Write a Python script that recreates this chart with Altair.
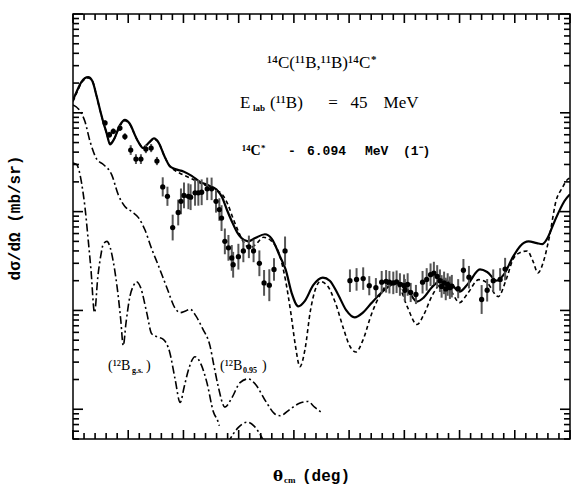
import altair as alt
import pandas as pd

# ---------------- data ----------------
solid_theta = [0, 1.6, 3, 5.5, 7, 8.6, 9.8, 11, 12.2, 13.4, 15, 17, 18.8, 20.5, 23, 25.4, 27.5, 29.3, 31, 33,
               35, 37, 40, 43, 46, 49, 52, 54, 55.7, 57.5, 59.4, 61, 63.4, 66, 69.5, 72, 75, 77, 79.2, 81.6,
               84, 87, 90.5, 93, 96, 99, 102, 105, 108, 111, 114, 117, 119, 121, 124.6, 127, 130, 134, 137, 140,
               143, 147.4, 150, 153.5, 156, 159.4, 162, 165, 168, 170, 172, 174, 176, 178, 180]
solid_sigma = [1.35, 1.7, 2.05, 2.3, 2.1, 1.46, 1.07, 0.8, 0.62, 0.48, 0.55, 0.75, 0.85, 0.78, 0.55, 0.44, 0.5, 0.55, 0.5, 0.37,
               0.29, 0.27, 0.255, 0.23, 0.2, 0.185, 0.167, 0.14, 0.105, 0.08, 0.062, 0.054, 0.05, 0.054, 0.059, 0.053, 0.035, 0.026, 0.015, 0.011,
               0.0125, 0.018, 0.0215, 0.02, 0.0145, 0.01, 0.0085, 0.0095, 0.0118, 0.0145, 0.0172, 0.019, 0.0188, 0.0165, 0.0123, 0.0135, 0.0172, 0.0205, 0.0185, 0.0155,
               0.0185, 0.026, 0.0245, 0.02, 0.023, 0.035, 0.045, 0.05, 0.048, 0.047, 0.055, 0.075, 0.1, 0.128, 0.15]

dashed_theta = [0, 1.6, 3, 5.5, 7, 8.6, 9.8, 11, 12.2, 13.4, 15, 17, 18.8, 20.5, 23, 25.4, 27.5, 29.3, 31, 33,
                35, 37, 40, 43, 46, 49, 52, 54, 56, 58, 60, 62, 64, 66, 69, 72, 75, 77, 79, 80.5,
                82.2, 84, 86, 88, 89.5, 92, 95, 98, 100, 102.5, 105, 108, 111, 115, 118, 121, 124.6, 127, 130, 134,
                137, 140, 143, 147, 150, 154, 157, 159.4, 162, 164.5, 166.5, 168.4, 170.5, 172.5, 175, 177, 179, 180]
dashed_sigma = [1.3, 1.65, 2.0, 2.25, 2.1, 1.45, 1.06, 0.8, 0.62, 0.49, 0.55, 0.74, 0.83, 0.77, 0.55, 0.45, 0.5, 0.54, 0.5, 0.37,
                0.29, 0.26, 0.235, 0.215, 0.195, 0.18, 0.165, 0.15, 0.12, 0.085, 0.062, 0.048, 0.043, 0.046, 0.055, 0.05, 0.035, 0.02, 0.009, 0.0045,
                0.0027, 0.004, 0.01, 0.017, 0.0196, 0.018, 0.012, 0.0065, 0.0045, 0.0038, 0.005, 0.009, 0.014, 0.019, 0.0175, 0.011, 0.0072, 0.009, 0.014, 0.019,
                0.0155, 0.012, 0.015, 0.0205, 0.019, 0.0138, 0.021, 0.033, 0.0386, 0.04, 0.032, 0.024, 0.032, 0.055, 0.13, 0.17, 0.21, 0.22]

# 12B(0.95) contribution (upper dash-dot)
dda_theta = [0, 2.5, 4.3, 6.2, 8.6, 11, 14, 16.4, 18.8, 21.3, 23.7, 26, 28.5, 30.8, 34, 37, 38.8, 40.5, 42.4, 44.5,
             47, 49.6, 51, 52.6, 55, 57.5, 60.5, 63.5, 66, 70, 73, 75, 78.6, 82, 85, 87.5, 90]
dda_sigma = [1.2, 1.05, 0.82, 0.51, 0.34, 0.3, 0.237, 0.148, 0.113, 0.1, 0.087, 0.066, 0.042, 0.029, 0.017, 0.0105, 0.0095, 0.0098, 0.0103, 0.0088,
             0.0065, 0.0044, 0.0028, 0.0017, 0.00105, 0.0013, 0.00186, 0.00203, 0.0018, 0.00118, 0.0009, 0.00086, 0.001, 0.00115, 0.0012, 0.00105, 0.00093]

# 12B(g.s.) contribution (lower dash-dot)
ddb_theta = [0, 1.3, 2.2, 3.1, 4.3, 5.5, 6.5, 7.8, 9, 10, 11, 12.3, 13.5, 14.6, 16.4, 17.3, 18.2, 19.2, 20.6, 22,
             23, 24.5, 26.7, 28.5, 30.5, 32.7, 35, 37, 38.8, 40.3, 41.8, 44.2, 46.5, 48.5, 50.8, 52.6, 53]
ddb_sigma = [0.31, 0.3, 0.26, 0.195, 0.113, 0.052, 0.026, 0.0095, 0.022, 0.035, 0.047, 0.05, 0.043, 0.031, 0.0138, 0.008, 0.0044, 0.0075, 0.0138, 0.018,
             0.0195, 0.017, 0.0095, 0.0058, 0.0054, 0.0051, 0.0038, 0.002, 0.00117, 0.0017, 0.0025, 0.0034, 0.0028, 0.00186, 0.00095, 0.00074, 0.00068]
ddc_theta = [56, 58, 60, 63, 65.5, 67.7, 69.5]
ddc_sigma = [0.00045, 0.00056, 0.00066, 0.00074, 0.00068, 0.00056, 0.00045]

# experimental points: angle, cross section, error factor (log-symmetric)
exp_theta = [11.6, 13.2, 14.6, 17.0, 18.8, 20.9, 22.8, 24.6, 26.4, 28.3, 30.4, 32.5, 34.2, 36.1, 38.1, 39.1, 40.2, 41.8, 42.6, 44.2,
             45.4, 46.6, 48.6, 50.2, 51.8, 53.0, 53.8, 55.0, 56.3, 57.5, 58.0, 59.9, 61.7, 63.7, 65.4, 67.5, 69.2, 71.1, 72.8, 76.8,
             100.3, 102.7, 105.1, 107.3, 109.7, 111.8, 113.4, 114.6, 116.0, 117.2, 118.4, 119.9, 121.2, 120.2, 122.3, 124.2, 126.6, 128.1, 129.5, 130.7,
             131.9, 132.9, 133.5, 134.4, 135.0, 135.7, 136.5, 137.2, 139.5, 141.4, 143.4, 148.0, 150.0, 152.2, 154.7, 156.5]
exp_sigma = [0.79, 0.60, 0.65, 0.70, 0.575, 0.42, 0.34, 0.34, 0.43, 0.44, 0.325, 0.178, 0.143, 0.069, 0.098, 0.127, 0.146, 0.143, 0.14, 0.155,
             0.155, 0.157, 0.17, 0.17, 0.127, 0.105, 0.086, 0.05, 0.043, 0.034, 0.029, 0.035, 0.040, 0.044, 0.040, 0.030, 0.019, 0.018, 0.026, 0.040,
             0.020, 0.0206, 0.021, 0.0178, 0.017, 0.0193, 0.0197, 0.0193, 0.019, 0.0195, 0.0183, 0.0178, 0.0183, 0.016, 0.0152, 0.0145, 0.0193, 0.0206, 0.023, 0.0239,
             0.0221, 0.020, 0.0175, 0.019, 0.0165, 0.0183, 0.017, 0.0176, 0.0166, 0.0255, 0.0217, 0.0129, 0.016, 0.020, 0.0206, 0.0262]
exp_err = [1.06, 1.07, 1.07, 1.07, 1.08, 1.12, 1.12, 1.12, 1.1, 1.1, 1.1, 1.25, 1.25, 1.35, 1.35, 1.35, 1.35, 1.35, 1.35, 1.35,
           1.35, 1.35, 1.3, 1.3, 1.3, 1.3, 1.35, 1.35, 1.35, 1.35, 1.35, 1.35, 1.3, 1.3, 1.3, 1.35, 1.35, 1.45, 1.3, 1.4,
           1.3, 1.3, 1.3, 1.25, 1.25, 1.3, 1.3, 1.3, 1.3, 1.3, 1.3, 1.3, 1.3, 1.3, 1.25, 1.25, 1.3, 1.3, 1.3, 1.3,
           1.3, 1.3, 1.3, 1.3, 1.3, 1.3, 1.3, 1.3, 1.25, 1.3, 1.3, 1.4, 1.3, 1.3, 1.3, 1.3]

x_label_values = [0, 20, 40, 60, 80, 100, 120, 140, 160, 180]
y_label_values = [0.001, 0.01, 0.1, 1, 10]
x_minor_ticks = [t for t in range(0, 181, 4) if t % 20 != 0]
y_minor_ticks = [m * 10.0 ** e for e in range(-4, 1) for m in range(2, 10) if 5e-4 <= m * 10.0 ** e <= 10]

# ---------------- layout ----------------
W, H = 497, 425
XMIN, XMAX = 0, 180
YMIN, YMAX = 5e-4, 10
xscale = alt.Scale(domain=[XMIN, XMAX], nice=False, zero=False)
yscale = alt.Scale(type="log", domain=[YMIN, YMAX], nice=False)
xaxis = alt.Axis(values=x_label_values, ticks=False, tickSize=0, domain=False, grid=False, title=None,
                 labelFont="Liberation Sans", labelFontWeight="bold", labelFontSize=16, labelColor="black",
                 labelPadding=8, labelFlush=False, labelOverlap=False)
yaxis = alt.Axis(values=y_label_values, ticks=False, tickSize=0, domain=False, grid=False, title=None,
                 labelFont="Liberation Sans", labelFontWeight="bold", labelFontSize=16, labelColor="black",
                 labelPadding=5, labelFlush=False, labelOverlap=False,
                 labelExpr="datum.value >= 5 ? '10' : datum.value >= 0.5 ? '1' : datum.value >= 0.05 ? '10 ⁻¹' : datum.value >= 0.005 ? '10 ⁻²' : '10 ⁻³'")


def X(field="theta", axis=True):
    return alt.X(f"{field}:Q", scale=xscale, axis=xaxis if axis else None)


def Y(field="sigma", axis=True):
    return alt.Y(f"{field}:Q", scale=yscale, axis=yaxis if axis else None)


def curve(th, sg, dash, width):
    df = pd.DataFrame({"theta": th, "sigma": sg})
    kw = dict(color="black", strokeWidth=width, interpolate="monotone", clip=True)
    if dash:
        kw["strokeDash"] = dash
    return alt.Chart(df).mark_line(**kw).encode(x=X(), y=Y())


dashdot = [8, 3, 2, 3]
layers = [
    curve(dashed_theta, dashed_sigma, [4, 3], 1.6),
    curve(dda_theta, dda_sigma, dashdot, 1.6),
    curve(ddb_theta, ddb_sigma, dashdot, 1.6),
    curve(ddc_theta, ddc_sigma, dashdot, 1.6),
    curve(solid_theta, solid_sigma, None, 2.2),
]

exp_df = pd.DataFrame({"theta": exp_theta, "sigma": exp_sigma, "f": exp_err})
exp_df["lo"] = exp_df["sigma"] / exp_df["f"]
exp_df["hi"] = exp_df["sigma"] * exp_df["f"]
layers.append(alt.Chart(exp_df).mark_rule(color="#555555", strokeWidth=2, clip=True).encode(
    x=X(), y=Y("lo"), y2="hi:Q"))
layers.append(alt.Chart(exp_df).mark_circle(color="black", size=28, opacity=1, clip=True).encode(x=X(), y=Y()))

# inward ticks on all four sides, expressed in data space through the scales
ydec = 4.30103  # decades spanned by the y domain


def yfrac(px):
    return 10 ** (px * ydec / H)


def xstep(px):
    return px * (XMAX - XMIN) / W


xt_rows = []
for vals, ln in ((x_label_values, 9), (x_minor_ticks, 6)):
    for v in vals:
        xt_rows.append({"theta": float(v), "sigma": YMIN, "sigma2": YMIN * yfrac(ln)})
        xt_rows.append({"theta": float(v), "sigma": YMAX / yfrac(ln), "sigma2": YMAX})
yt_rows = []
for vals, ln in ((y_label_values, 10), (y_minor_ticks, 6)):
    for v in vals:
        yt_rows.append({"sigma": v, "theta": float(XMIN), "theta2": XMIN + xstep(ln)})
        yt_rows.append({"sigma": v, "theta": XMAX - xstep(ln), "theta2": float(XMAX)})
xt_df = pd.DataFrame(xt_rows)
yt_df = pd.DataFrame(yt_rows)
layers.append(alt.Chart(xt_df).mark_rule(color="black", strokeWidth=1.6).encode(
    x=X(axis=False), y=Y(axis=False), y2="sigma2:Q"))
layers.append(alt.Chart(yt_df).mark_rule(color="black", strokeWidth=1.6).encode(
    y=Y(axis=False), x=X(axis=False), x2="theta2:Q"))

# ---------------- texts (positions relative to plot origin) ----------------
OX, OY = 73, 14


def txt(s, ax, ay, font="Liberation Serif", size=16, weight="normal", align="left", angle=0, baseline="alphabetic"):
    kw = dict(font=font, fontSize=size, fontWeight=weight, align=align, baseline=baseline, color="black")
    if angle:
        kw["angle"] = angle
    return alt.Chart(pd.DataFrame({"s": [s]})).mark_text(**kw).encode(
        text="s:N", x=alt.value(ax - OX), y=alt.value(ay - OY))


mono = "Liberation Mono"
layers += [
    txt("¹⁴C(¹¹B,¹¹B)¹⁴C", 267, 68, size=17),
    txt("*", 371, 63, size=11, weight="bold"),
    txt("E", 240, 108, size=17),
    txt("lab", 253, 111, size=9, weight="bold"),
    txt("(¹¹B)", 270, 108, size=17),
    txt("=", 333, 108, size=17, align="center"),
    txt("45", 359, 108, size=17, align="center"),
    txt("MeV", 401, 108, size=17, align="center"),
    txt("¹⁴C", 242, 155, size=14, weight="bold"),
    txt("*", 261, 151, size=9, weight="bold"),
    txt("-", 292, 155, font=mono, size=13, weight="bold", align="center"),
    txt("6.094", 307, 155, font=mono, size=13, weight="bold"),
    txt("MeV", 365, 155, font=mono, size=13, weight="bold"),
    txt("(1⁻)", 403, 155, font=mono, size=13, weight="bold"),
    txt("(¹²B", 108, 370, size=14),
    txt("g.s.", 132, 373, size=8, weight="bold"),
    txt(")", 146, 370, size=14),
    txt("(¹²B", 220, 370, size=14),
    txt("0.95", 243, 373, size=8, weight="bold"),
    txt(")", 262, 370, size=14),
    txt("θ", 273, 481, font="DejaVu Serif", size=15, weight="bold"),
    txt("cm", 284, 483, size=9, weight="bold"),
    txt("(deg)", 302, 481, font=mono, size=16, weight="bold"),
    txt("dσ/dΩ (mb/sr)", 15, 218, font=mono, size=16, weight="bold", align="center", angle=270, baseline="middle"),
]

chart = alt.layer(*layers).properties(
    width=W, height=H,
    autosize=alt.AutoSizeParams(type="none"),
    padding={"left": OX, "top": OY, "right": 586 - OX - W, "bottom": 485 - OY - H},
    background="white",
).configure_view(stroke="black", strokeWidth=1.5)

chart.save("out.html", embed_options={"renderer": "svg", "actions": False})
